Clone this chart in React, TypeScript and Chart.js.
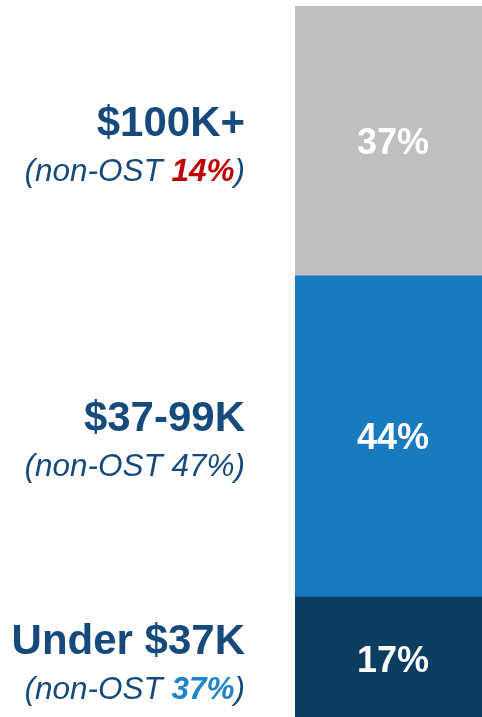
import React, { useEffect, useRef } from "react";
import { Chart, registerables } from "chart.js";

Chart.register(...registerables);

const categories = ["Under $37K", "$37-99K", "$100K+"];
const ostShares = [17, 44, 37];
const nonOstShares = [37, 47, 14];
const segmentColors = ["#0D3D61", "#187BC0", "#BFBFBF"];
const nonOstHighlight = ["#1F84C8", null, "#C00000"];

const NAVY = "#174A7C";
const FONT = "'Liberation Sans', Arial, sans-serif";

const labelPlugin = {
  id: "sideLabels",
  afterDatasetsDraw(chart: any) {
    const ctx = chart.ctx as CanvasRenderingContext2D;
    ctx.save();
    chart.data.datasets.forEach((ds: any, i: number) => {
      const meta = chart.getDatasetMeta(i);
      const el = meta.data[0] as any;
      if (!el) return;
      const cy = (el.y + el.base) / 2;
      // percent inside bar
      ctx.fillStyle = "#FFFFFF";
      ctx.font = `bold 36px ${FONT}`;
      ctx.textAlign = "center";
      ctx.textBaseline = "middle";
      ctx.fillText(`${ostShares[i]}%`, el.x, cy + 3);

      // main label
      const rightX = 245;
      ctx.textAlign = "right";
      ctx.fillStyle = NAVY;
      ctx.font = `bold 42px ${FONT}`;
      ctx.fillText(categories[i], rightX, cy - 17);

      // sub label: (non-OST xx%)
      const subY = cy + 31;
      const hl = nonOstHighlight[i];
      const parts: { t: string; font: string; color: string }[] = [
        { t: "(non-OST ", font: `italic 31.5px ${FONT}`, color: NAVY },
        {
          t: `${nonOstShares[i]}%`,
          font: hl ? `italic bold 31.5px ${FONT}` : `italic 31.5px ${FONT}`,
          color: hl || NAVY,
        },
        { t: ")", font: `italic 31.5px ${FONT}`, color: NAVY },
      ];
      let x = rightX;
      for (let p = parts.length - 1; p >= 0; p--) {
        const part = parts[p];
        ctx.font = part.font;
        ctx.fillStyle = part.color;
        ctx.fillText(part.t, x, subY);
        x -= ctx.measureText(part.t).width;
      }
    });
    ctx.restore();
  },
};

export default function App() {
  const ref = useRef<HTMLCanvasElement | null>(null);
  useEffect(() => {
    document.body.style.margin = "0";
    const canvas = ref.current!;
    const chart = new Chart(canvas, {
      type: "bar",
      data: {
        labels: [""],
        datasets: categories.map((c, i) => ({
          label: c,
          data: [ostShares[i]],
          backgroundColor: segmentColors[i],
          borderWidth: 0,
          barPercentage: 1,
          categoryPercentage: 1,
        })),
      },
      options: {
        responsive: false,
        animation: false,
        layout: { padding: { left: 295, top: 6, right: 0, bottom: 0 } },
        scales: {
          x: { stacked: true, display: false },
          y: { stacked: true, display: false, min: 0, max: 98 },
        },
        plugins: { legend: { display: false }, tooltip: { enabled: false } },
      },
      plugins: [labelPlugin],
    });
    return () => chart.destroy();
  }, []);
  return (
    <div style={{ width: 482, height: 717, overflow: "hidden", background: "#fff" }}>
      <canvas ref={ref} width={491} height={721} />
    </div>
  );
}
